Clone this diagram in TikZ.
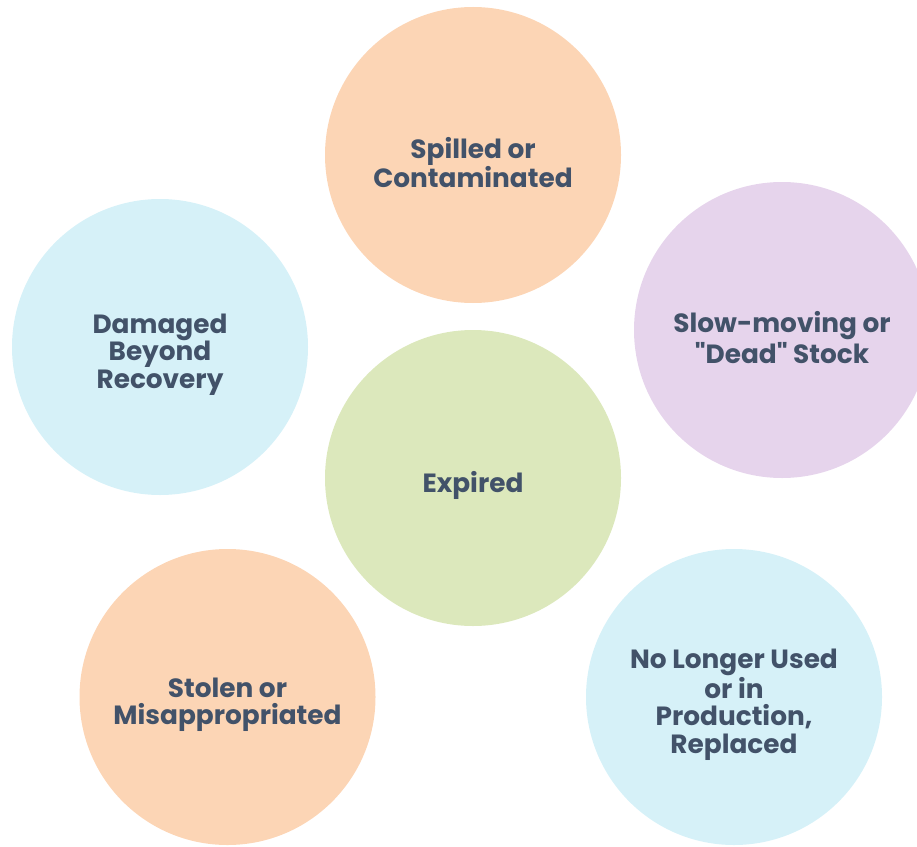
\documentclass[tikz,border=0pt]{standalone}
\usepackage{fontspec}
\setmainfont{Poppins}[Ligatures=TeXOff]
\usetikzlibrary{positioning}

\definecolor{peach}{HTML}{FCD5B5}
\definecolor{skyblue}{HTML}{D6F1F8}
\definecolor{lavender}{HTML}{E6D4EC}
\definecolor{sage}{HTML}{DCE8BC}
\definecolor{slate}{HTML}{425269}

\begin{document}
\begin{tikzpicture}[
            caption/.style={
                    align=center,
                    text=slate,
                    yshift=-0.15cm,
                    font=\fontsize{15}{15.5}\selectfont\bfseries
                },
            reason/.style={
                    circle,
                    minimum size=5.92cm,
                    inner sep=0pt,
                    label={[caption]center:{#1}}
                },
            orange reason/.style={reason={#1}, fill=peach},
            blue reason/.style={reason={#1}, fill=skyblue},
            purple reason/.style={reason={#1}, fill=lavender},
            green reason/.style={reason={#1}, fill=sage}
            ]

            % Lienzo
            \useasboundingbox (0,0) rectangle (18.34,-16.92);
            \clip (0,0) rectangle (18.34,-16.92);

            % Fila superior
            \node[orange reason={Spilled or\\Contaminated}]
            (spilled) at (9.46,-3.10) {};
            \node[blue reason={Damaged\\Beyond\\Recovery}]
            (damaged) at (3.20,-6.94) {};
            \node[purple reason={Slow-moving or\\"Dead" Stock}]
            (slow) at (15.64,-6.60) {};

            % Centro
            \node[green reason={Expired}] (expired) at (9.46,-9.56) {};

            % Fila inferior
            \node[orange reason={Stolen or\\Misappropriated}]
            (stolen) at (4.55,-13.94) {};
            \node[blue reason={No Longer Used\\or in\\Production,\\Replaced}]
            (unused) at (14.68,-13.94) {};

        \end{tikzpicture}
\end{document}
